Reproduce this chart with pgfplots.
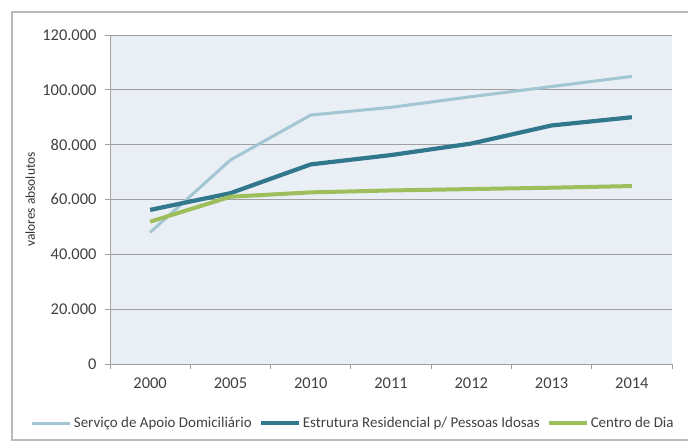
\documentclass[border=0pt]{standalone}
\usepackage{pgfplots}
\pgfplotsset{compat=1.18}
\usepackage{fontspec}
\setmainfont{Carlito}
\definecolor{sad}{HTML}{A2C6D2}
\definecolor{erpi}{HTML}{31788D}
\definecolor{cdd}{HTML}{9DBE5B}
\definecolor{plotbg}{HTML}{EAEEF5}
\definecolor{gridc}{HTML}{A0A0A0}
\begin{document}
\begin{tikzpicture}[x=1bp,y=1bp]
\path[use as bounding box] (0,0) rectangle (688,447);
\draw[color=gray!55, line width=1.2bp] (12,7) rectangle (690,435);
\begin{axis}[
  at={(110bp,83bp)}, anchor=south west,
  scale only axis, width=562bp, height=329bp,
  xmin=-0.5, xmax=6.5, ymin=0, ymax=120000,
  xtick={0,...,6},
  xticklabels={2000,2005,2010,2011,2012,2013,2014},
  minor xtick={-0.5,0.5,...,6.5},
  major x tick style={draw=none},
  minor x tick style={draw=gridc, line width=0.8bp},
  minor tick length=5bp,
  ytick={0,20000,40000,60000,80000,100000,120000},
  yticklabels={0,20.000,40.000,60.000,80.000,100.000,120.000},
  y tick style={draw=gridc, line width=0.8bp},
  major tick length=5bp,
  tick align=outside,
  axis x line*=bottom, axis y line*=left,
  axis line style={draw=gridc, line width=0.8bp},
  ymajorgrids, grid style={draw=gridc, line width=0.8bp},
  axis background/.style={fill=plotbg},
  scaled y ticks=false,
  tick label style={font=\fontsize{16.5}{18}\selectfont, text=black!75},
  yticklabel style={xshift=-5bp},
  xticklabel style={yshift=-5bp},
  ylabel={valores absolutos},
  ylabel style={at={(axis description cs:-0.142,0.5)}, anchor=center, font=\fontsize{13.5}{15}\selectfont, text=black!80},
  legend columns=3,
  legend style={at={(axis description cs:-0.141,-0.18)}, anchor=west, draw=none, fill=none,
    font=\fontsize{15}{17}\selectfont, text=black!75, inner sep=0pt,
    /tikz/every even column/.style={column sep=5bp}},
  legend image code/.code={\draw[#1] (0bp,0bp) -- (38bp,0bp);},
]
\addplot[sad, line width=3bp] coordinates {(0,48000) (1,74400) (2,90800) (3,93600) (4,97500) (5,101200) (6,104900)};
\addlegendentry{Serviço de Apoio Domiciliário}
\addplot[erpi, line width=4.2bp] coordinates {(0,56200) (1,62300) (2,72800) (3,76200) (4,80400) (5,87000) (6,90000)};
\addlegendentry{Estrutura Residencial p/ Pessoas Idosas}
\addplot[cdd, line width=4bp] coordinates {(0,51900) (1,61000) (2,62600) (3,63300) (4,63800) (5,64300) (6,64900)};
\addlegendentry{Centro de Dia}
\end{axis}
\end{tikzpicture}
\end{document}
